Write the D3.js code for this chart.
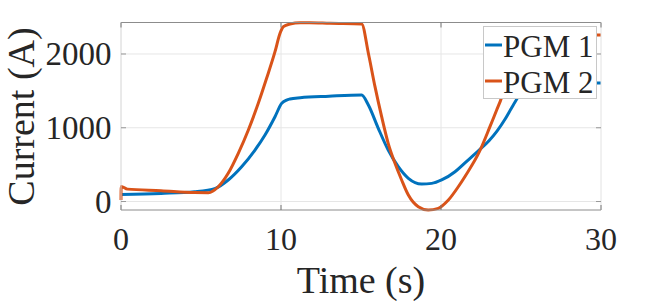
<!DOCTYPE html>
<html>

<head>
    <meta charset="UTF-8">
    <title>PGM current</title>
    <style>
        body {
            margin: 0;
            background: #fff;
        }

        text {
            font-family: "Liberation Serif", "Times New Roman", serif;
            fill: #262626;
        }

        .grid line {
            stroke: #e6e6e6;
            stroke-width: 1px;
        }

        .curve {
            fill: none;
            stroke-width: 3px;
            stroke-linejoin: round;
        }
    </style>
</head>

<body>
    <svg id="chart" width="664" height="301"></svg>

    <script src="https://d3js.org/d3.v7.min.js"></script>

    <script>
        // values
        const pgm1Time = [0, 2.5, 4.6, 5.9, 6.7, 7.54, 8.375, 9.0, 9.625, 10.04, 10.35, 10.56, 11.2, 13.0, 15.04,
            15.46, 16.08, 16.7, 17.33, 17.96, 18.79, 19.42, 20.04, 20.875, 21.5, 22.4, 23.0, 23.5, 24.0, 24.4, 24.8,
            25.2, 25.6, 30];
        const pgm1Current = [95, 110, 133, 179, 292, 472, 698, 902, 1150, 1331, 1376, 1390, 1408, 1428, 1444,
            1308, 992, 698, 472, 314, 237, 246, 292, 404, 525, 700, 825, 955, 1115, 1265, 1410,
            1540, 1600, 1607];

        const pgm2Time = [0, 0.01, 0.4, 2.5, 4.6, 5.46, 6.08, 6.7, 7.33, 7.96, 8.58, 9.1, 9.625, 9.94, 10.15, 10.56,
            11.2, 11.8, 13.06, 15.04, 15.46, 15.875, 16.29, 16.7, 17.125, 17.54, 17.96, 18.58, 19.2, 19.83, 20.46,
            21.08, 21.5, 22.4, 23.06, 23.48, 23.8, 24.2, 24.6, 25.0, 30];
        const pgm2Current = [20, 205, 168, 147, 122, 120, 200, 382, 653, 970, 1331, 1670, 2031, 2281, 2370, 2407,
            2425, 2425, 2416, 2407, 2010, 1557, 1150, 789, 518, 292, 88, -70, -115, -92, 20,
            200, 340, 675, 1015, 1241, 1421, 1800, 2150, 2250, 2258];

        const seriesNames = ["PGM 1", "PGM 2"];
        const seriesColors = ["#0072BD", "#D95319"];
        const xTicks = [0, 10, 20, 30];
        const yTicks = [0, 1000, 2000];

        const svg = d3.select("#chart");
        const plotLeft = 121, plotRight = 601, plotTop = 22.5, plotBottom = 210;

        const x = d3.scaleLinear().domain([0, 30]).range([plotLeft, plotRight]);
        const y = d3.scaleLinear().domain([-115, 2427]).range([plotBottom, plotTop]);

        // grid
        const grid = svg.append("g").attr("class", "grid");
        grid.selectAll("line.gx")
            .data(xTicks.slice(1, -1))
            .join("line")
            .attr("class", "gx")
            .attr("x1", d => x(d)).attr("x2", d => x(d))
            .attr("y1", plotTop).attr("y2", plotBottom);
        grid.selectAll("line.gy")
            .data(yTicks)
            .join("line")
            .attr("class", "gy")
            .attr("x1", plotLeft).attr("x2", plotRight)
            .attr("y1", d => y(d)).attr("y2", d => y(d));

        // curves
        const line = d3.line()
            .x(d => x(d[0]))
            .y(d => y(d[1]))
            .curve(d3.curveMonotoneX);

        const series = [
            d3.zip(pgm1Time, pgm1Current),
            d3.zip(pgm2Time, pgm2Current)
        ];

        svg.append("g")
            .selectAll("path")
            .data(series)
            .join("path")
            .attr("class", "curve")
            .attr("stroke", (d, i) => seriesColors[i])
            .attr("d", line);

        // axes box
        const box = svg.append("g");
        box.append("line").attr("x1", plotLeft).attr("x2", plotRight).attr("y1", plotTop).attr("y2", plotTop)
            .attr("stroke", "#8c8c8c");
        box.append("line").attr("x1", plotLeft).attr("x2", plotRight).attr("y1", plotBottom).attr("y2", plotBottom)
            .attr("stroke", "#8c8c8c");
        box.append("line").attr("x1", plotLeft).attr("x2", plotLeft).attr("y1", plotTop).attr("y2", plotBottom)
            .attr("stroke", "#d4d4d4");
        box.append("line").attr("x1", plotRight).attr("x2", plotRight).attr("y1", plotTop).attr("y2", plotBottom)
            .attr("stroke", "#e2e2e2");

        // ticks, inward on all sides
        const tickLen = 5;
        xTicks.forEach(t => {
            box.append("line").attr("x1", x(t)).attr("x2", x(t))
                .attr("y1", plotBottom).attr("y2", plotBottom - tickLen).attr("stroke", "#777");
            box.append("line").attr("x1", x(t)).attr("x2", x(t))
                .attr("y1", plotTop).attr("y2", plotTop + tickLen).attr("stroke", "#777");
        });
        yTicks.forEach(t => {
            box.append("line").attr("x1", plotLeft).attr("x2", plotLeft + tickLen)
                .attr("y1", y(t)).attr("y2", y(t)).attr("stroke", "#999");
            box.append("line").attr("x1", plotRight - tickLen).attr("x2", plotRight)
                .attr("y1", y(t)).attr("y2", y(t)).attr("stroke", "#999");
        });

        // tick labels
        svg.append("g")
            .selectAll("text")
            .data(xTicks)
            .join("text")
            .attr("x", d => x(d))
            .attr("y", 250)
            .attr("text-anchor", "middle")
            .style("font-size", "32px")
            .text(d => d);

        svg.append("g")
            .selectAll("text")
            .data(yTicks)
            .join("text")
            .attr("x", 111.5)
            .attr("y", d => y(d) + 11)
            .attr("text-anchor", "end")
            .style("font-size", "33px")
            .text(d => d);

        // axis labels
        svg.append("text")
            .attr("x", (plotLeft + plotRight) / 2)
            .attr("y", 293)
            .attr("text-anchor", "middle")
            .style("font-size", "38px")
            .text("Time (s)");

        svg.append("text")
            .attr("transform", "translate(34,116.5) rotate(-90)")
            .attr("text-anchor", "middle")
            .style("font-size", "38px")
            .text("Current (A)");

        // legend
        const legend = svg.append("g");
        legend.append("rect")
            .attr("x", 483.5).attr("y", 26.5)
            .attr("width", 113).attr("height", 72)
            .attr("fill", "#fff")
            .attr("stroke", "#c8c8c8");

        const rowY = [45, 81];
        seriesNames.forEach((name, i) => {
            legend.append("line")
                .attr("x1", 485).attr("x2", 502)
                .attr("y1", rowY[i]).attr("y2", rowY[i])
                .attr("stroke", seriesColors[i])
                .attr("stroke-width", 3);
            legend.append("text")
                .attr("x", 503)
                .attr("y", rowY[i] + 11.5)
                .style("font-size", "31px")
                .text(name);
        });
    </script>

</body>

</html>
